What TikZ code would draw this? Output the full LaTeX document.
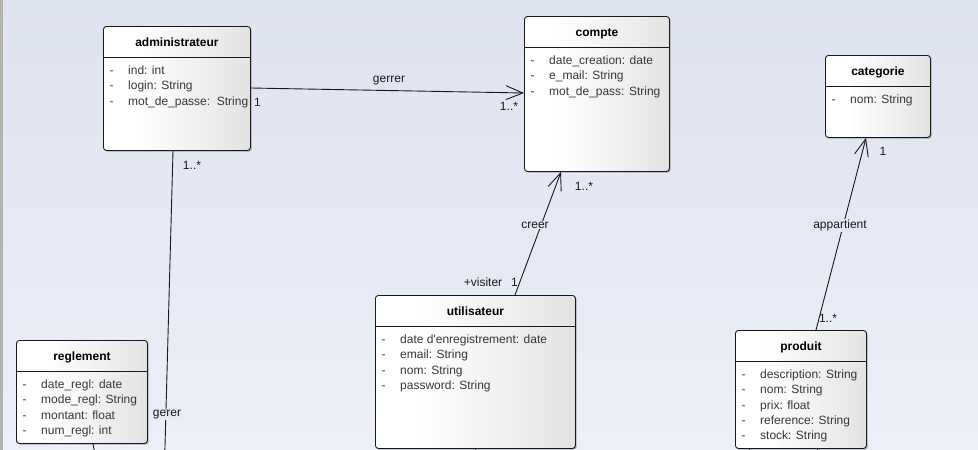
\documentclass[tikz,border=0pt]{standalone}
\usepackage{fontspec}
\setmainfont{Liberation Sans}
\usetikzlibrary{arrows.meta,shadows,calc}

\definecolor{bgtop}{RGB}{222,227,240}
\definecolor{bgbottom}{RGB}{236,239,247}
\definecolor{attrgray}{RGB}{55,55,55}
\definecolor{inkline}{RGB}{25,25,25}

% white on the left, fading to light gray on the right
\pgfdeclarehorizontalshading{classfill}{100bp}{color(0bp)=(white); color(36bp)=(white); color(75bp)=(black!11); color(100bp)=(black!11)}

\tikzset{
  classbox/.style={draw=inkline, line width=0.9pt, rounded corners=3pt,
    shading=classfill, anchor=north west, inner sep=0pt,
    drop shadow={shadow xshift=1.2pt, shadow yshift=-1.2pt, fill=black, opacity=0.28}},
  sepline/.style={draw=inkline, line width=0.9pt},
  classtitle/.style={font=\fontsize{12}{14}\selectfont\bfseries, inner sep=0pt,
    text height=8.8pt, text depth=2.6pt},
  attrtext/.style={font=\fontsize{12}{14}\selectfont, text=attrgray, anchor=west, inner sep=0pt,
    text height=8.6pt, text depth=2.6pt},
  assoc/.style={draw=inkline, line width=0.9pt},
  nav/.style={assoc, -{Straight Barb[length=17pt, width=14pt, line width=0.9pt]}},
  lbl/.style={font=\fontsize{12}{14}\selectfont, text=inkline, inner sep=0pt},
}

% class box: name, left, top, width, height, title
\newcommand{\umlclass}[6]{%
  \node[classbox, minimum width=#4pt, minimum height=#5pt] (#1) at (#2,#3) {};
  \draw[sepline] ([yshift=-31pt]#1.north west) -- ([yshift=-31pt]#1.north east);
  \node[classtitle] (#1-title) at ([yshift=-17.8pt]#1.north) {#6};
}
% attribute rows of a class box
\newcommand{\umlattrs}[2]{%
  \foreach \a [count=\i from 0] in {#2} {
    \node[attrtext] (#1-dash-\i) at ([xshift=6.5pt, yshift={-45.5pt-15.3pt*\i}]#1.north west) {-};
    \node[attrtext] (#1-attr-\i) at ([xshift=25pt, yshift={-45.5pt-15.3pt*\i}]#1.north west) {\a};
  }%
}

\begin{document}
\begin{tikzpicture}[x=1pt, y=-1pt]
  \useasboundingbox (0,0) rectangle (978,450);
  \clip (0,0) rectangle (978,450);
  \fill[top color=bgtop, bottom color=bgbottom] (0,0) rectangle (978,450);
  \fill[black!30] (0,0) rectangle (2.5,450);

  % classes
  \umlclass{admin}{103}{26}{147}{124}{administrateur}
  \umlattrs{admin}{ind: int, login: String, mot\_de\_passe:\ \ String}

  \umlclass{compte}{524}{16}{145}{155}{compte}
  \umlattrs{compte}{date\_creation: date, e\_mail: String, mot\_de\_pass: String}

  \umlclass{categorie}{825}{55}{105}{82}{categorie}
  \umlattrs{categorie}{nom: String}

  \umlclass{utilisateur}{375}{295}{200}{153}{utilisateur}
  \umlattrs{utilisateur}{date d\textquotesingle enregistrement: date, email: String, nom: String, password: String}

  \umlclass{produit}{735}{330}{131}{118}{produit}
  \umlattrs{produit}{description: String, nom: String, prix: float, reference: String, stock: String}

  \umlclass{reglement}{16}{340}{131}{103}{reglement}
  \umlattrs{reglement}{date\_regl: date, mode\_regl: String, montant: float, num\_regl: int}

  % loose ends of links leaving the sheet
  \coordinate (gererend) at (164.5,465);
  \coordinate (reglend) at (97,465);
  \coordinate (utilend) at (475,465);
  \coordinate (prodendA) at (749,465);
  \coordinate (prodendB) at (817,465);

  % associations
  \draw[nav] ([yshift=-62pt]admin.north east) -- ([yshift=-77pt]compte.north west);
  \node[lbl] (l-gerrer) at (389,81) {gerrer};
  \node[lbl] (m-gerrer-a) at (257.5,102) {1};
  \node[lbl] (m-gerrer-b) at (509,106.5) {1..*};

  \draw[nav] ([xshift=140pt]utilisateur.north west) -- ([xshift=37pt]compte.south west);
  \node[lbl, fill=bgtop!60!bgbottom, inner sep=1pt] (l-creer) at (535,225) {creer};
  \node[lbl] (m-creer-a) at (483,282.5) {+visiter};
  \node[lbl] (m-creer-b) at (514.5,282.5) {1};
  \node[lbl] (m-creer-c) at (584,186.5) {1..*};

  \draw[nav] ([xshift=81pt]produit.north west) -- ([xshift=41pt]categorie.south west);
  \node[lbl, fill=bgtop!60!bgbottom, inner sep=1pt] (l-appartient) at (840,225.5) {appartient};
  \node[lbl] (m-app-a) at (883,151.5) {1};
  \node[lbl] (m-app-b) at (828,318) {1..*};

  \draw[assoc] ([xshift=70pt]admin.south west) -- (gererend);
  \node[lbl, fill=bgtop!40!bgbottom, inner sep=1pt] (l-gerer) at (167,415) {gerer};
  \node[lbl] (m-gerer) at (192,165.5) {1..*};

  \draw[assoc] ([xshift=77pt]reglement.south west) -- (reglend);
  \draw[assoc] ([xshift=100pt]utilisateur.south west) -- (utilend);
  \draw[assoc] ([xshift=14pt]produit.south west) -- (prodendA);
  \draw[assoc] ([xshift=82pt]produit.south west) -- (prodendB);
\end{tikzpicture}
\end{document}
